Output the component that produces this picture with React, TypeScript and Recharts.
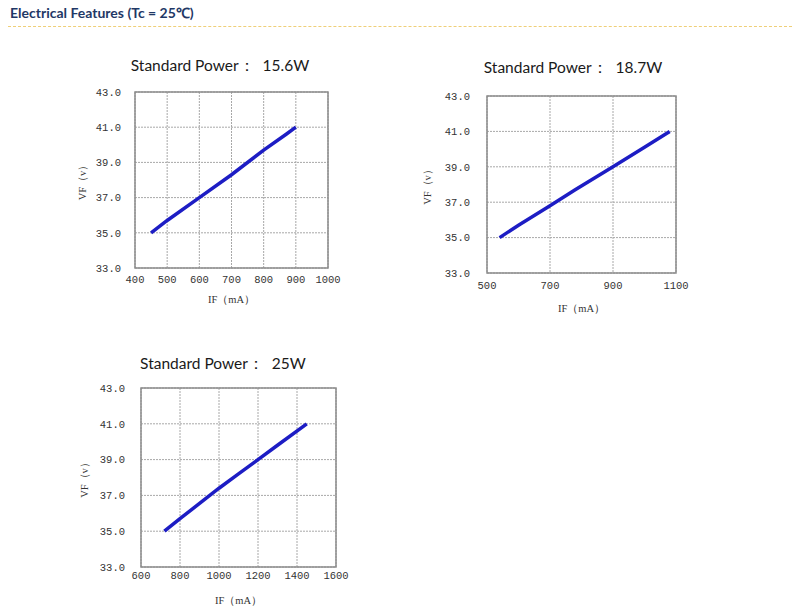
// @ts-nocheck
import { LineChart, Line, XAxis, YAxis, CartesianGrid, ReferenceArea } from 'recharts';

// 15.6W
const if156 = [450, 500, 600, 700, 800, 870, 900];
const vf156 = [35.0, 35.7, 37.0, 38.3, 39.7, 40.6, 41.0];
const xTicks156 = [400, 500, 600, 700, 800, 900, 1000];

// 18.7W
const if187 = [540, 600, 700, 780, 900, 1000, 1080];
const vf187 = [35.0, 35.7, 36.8, 37.7, 39.0, 40.1, 41.0];
const xTicks187 = [500, 700, 900, 1100];

// 25W
const if25 = [720, 800, 1000, 1100, 1200, 1300, 1450];
const vf25 = [35.0, 35.7, 37.4, 38.2, 39.0, 39.8, 41.0];
const xTicks25 = [600, 800, 1000, 1200, 1400, 1600];

const vfTicks = [33, 35, 37, 39, 41, 43];

const tickFont = { fill: '#333', fontSize: 10.5, fontFamily: '"Liberation Mono", monospace' };
const labelFont = { fill: '#333', fontSize: 10.5, fontFamily: '"Liberation Serif", serif', textAnchor: 'middle' };

function VfChart({ title, xs, ys, xTicks, p }) {
  const rows = xs.map((x, i) => ({ x, vf: ys[i] }));
  const xMin = xTicks[0];
  const xMax = xTicks[xTicks.length - 1];

  return (
    <>
      <div
        style={{
          position: 'absolute',
          left: p.titleX - 150,
          top: p.titleY - 10,
          width: 300,
          textAlign: 'center',
          fontFamily: 'Lato, sans-serif',
          fontSize: 15.5,
          color: '#1a1a1a',
          lineHeight: '20px',
          whiteSpace: 'pre',
        }}
      >
        {title}
      </div>
      <div style={{ position: 'absolute', left: p.left, top: p.top }}>
        <LineChart
          width={p.width}
          height={p.height}
          data={rows}
          margin={{ top: p.mTop, right: p.mRight, left: 0, bottom: 0 }}
        >
          <CartesianGrid strokeDasharray="2 1" stroke="#a8a8a8" />
          <XAxis
            dataKey="x"
            type="number"
            domain={[xMin, xMax]}
            ticks={xTicks}
            interval={0}
            height={p.xAxisH}
            axisLine={false}
            tickLine={false}
            tickSize={0}
            tickMargin={p.xGap}
            tick={tickFont}
            label={{ value: 'IF（mA）', position: 'insideBottom', offset: p.xLabelOff, style: labelFont }}
          />
          <YAxis
            type="number"
            domain={[33, 43]}
            ticks={vfTicks}
            interval={0}
            width={p.yAxisW}
            axisLine={false}
            tickLine={false}
            tickSize={0}
            tickMargin={p.yGap}
            tick={tickFont}
            tickFormatter={(v) => v.toFixed(1)}
            label={{ value: 'VF（v）', angle: -90, position: 'insideLeft', offset: p.yLabelOff, style: labelFont }}
          />
          {/* plot frame */}
          <ReferenceArea x1={xMin} x2={xMax} y1={33} y2={43} fill="none" stroke="#8c8c8c" strokeWidth={1.5} fillOpacity={0} />
          <Line
            type="linear"
            dataKey="vf"
            stroke="#1d1dc4"
            strokeWidth={3.5}
            dot={false}
            isAnimationActive={false}
          />
        </LineChart>
      </div>
    </>
  );
}

export default function App() {
  return (
    <div style={{ position: 'absolute', left: 0, top: 0, width: 800, height: 609, background: '#fff', overflow: 'hidden' }}>
      <div
        style={{
          position: 'absolute',
          left: 10,
          top: 3,
          fontFamily: 'Lato, sans-serif',
          fontWeight: 700,
          fontSize: 14,
          color: '#1f3866',
        }}
      >
        Electrical Features (Tc = 25℃)
      </div>
      <div style={{ position: 'absolute', left: 8, top: 26, width: 784, borderTop: '1px dashed #efcf78' }} />

      <VfChart
        title="Standard Power：  15.6W"
        xs={if156}
        ys={vf156}
        xTicks={xTicks156}
        p={{ left: 75, top: 85, width: 270, height: 230, yAxisW: 60, xAxisH: 47, mTop: 7, mRight: 17, xGap: 8, yGap: 14, xLabelOff: 12, yLabelOff: 7, titleX: 220, titleY: 65 }}
      />
      <VfChart
        title="Standard Power：  18.7W"
        xs={if187}
        ys={vf187}
        xTicks={xTicks187}
        p={{ left: 418, top: 88, width: 277, height: 235, yAxisW: 69, xAxisH: 50, mTop: 8, mRight: 19, xGap: 9, yGap: 17, xLabelOff: 11, yLabelOff: 9, titleX: 573, titleY: 67 }}
      />
      <VfChart
        title="Standard Power：  25W"
        xs={if25}
        ys={vf25}
        xTicks={xTicks25}
        p={{ left: 80, top: 378, width: 275, height: 231, yAxisW: 61, xAxisH: 42, mTop: 10, mRight: 19, xGap: 5, yGap: 16, xLabelOff: 5, yLabelOff: 4, titleX: 223, titleY: 363 }}
      />
    </div>
  );
}
